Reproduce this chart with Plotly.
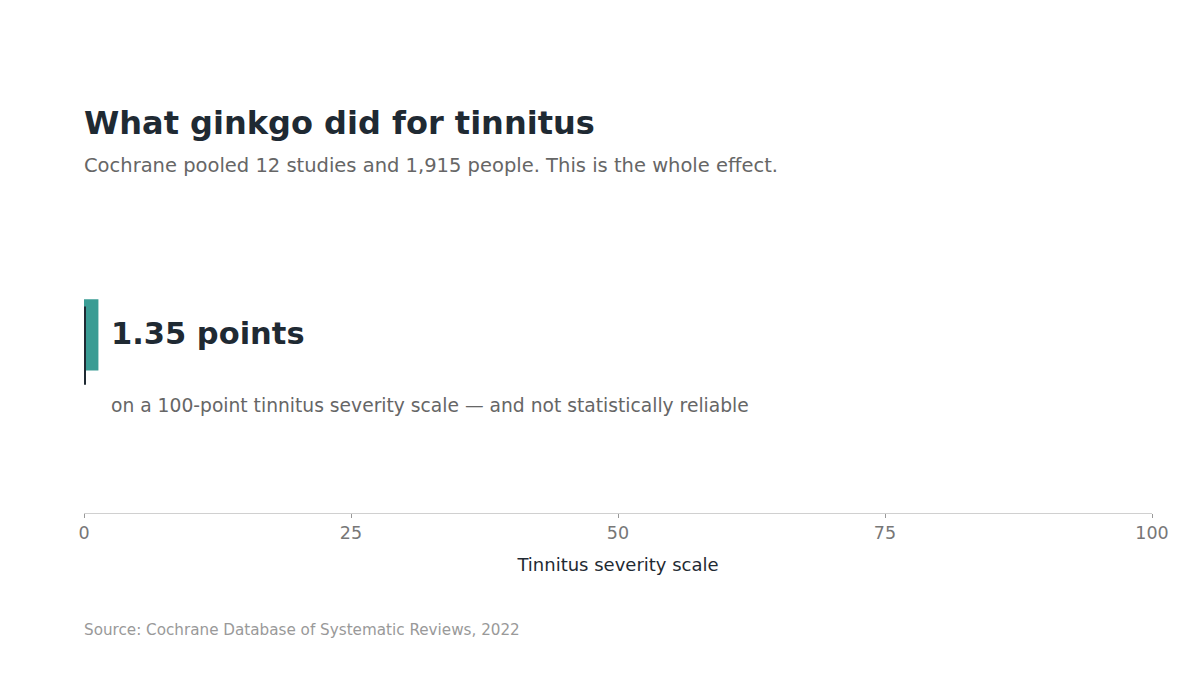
import plotly.graph_objects as go

###############################################################################
# Data
###############################################################################
effect = [1.35]
rows = [0]
tick_vals = [0, 25, 50, 75, 100]
tick_text = ['0', '25', '50', '75', '100']

TITLE = 'What ginkgo did for tinnitus'
SUBTITLE = 'Cochrane pooled 12 studies and 1,915 people. This is the whole effect.'
NOTE = 'on a 100-point tinnitus severity scale — and not statistically reliable'
SOURCE = 'Source: Cochrane Database of Systematic Reviews, 2022'
FONT = 'DejaVu Sans'
INK = '#1f2a33'

###############################################################################
# Figure
###############################################################################
fig = go.Figure()
fig.add_trace(go.Bar(
    x=effect, y=rows, orientation='h',
    width=0.5,
    marker=dict(color='#3a9c94', line=dict(width=0)),
    hoverinfo='skip', showlegend=False
))

# zero reference line (paper-anchored so it isn't clipped at the axis edge)
fig.add_shape(
    type='line', xref='paper', yref='y',
    xsizemode='pixel', xanchor=0, x0=1, x1=1,
    y0=0.2, y1=-0.35,
    line=dict(color=INK, width=2)
)

fig.update_layout(
    width=1200, height=675,
    margin=dict(l=76, r=56, t=220, b=170),
    paper_bgcolor='white', plot_bgcolor='white',
    font=dict(family=FONT, color=INK),
    xaxis=dict(
        range=[0, 100], tickvals=tick_vals, ticktext=tick_text,
        showgrid=False, zeroline=False,
        showline=True, linecolor='#d0d0d0', linewidth=1,
        ticks='outside', ticklen=4, tickcolor='#999999',
        tickfont=dict(size=17.5, color='#777777'),
        title=dict(text='Tinnitus severity scale', standoff=16,
                   font=dict(size=18, color=INK)),
        fixedrange=True,
    ),
    yaxis=dict(range=[-1.25, 0.75], visible=False, fixedrange=True),
)

# callout text
fig.add_annotation(
    x=0, y=0, xref='paper', yref='y',
    xshift=25, yshift=1, xanchor='left', yanchor='middle',
    text='<b>1.35 points</b>', showarrow=False,
    font=dict(family=FONT, size=30.5, color=INK)
)
fig.add_annotation(
    x=0, y=0, xref='paper', yref='y',
    xshift=25, yshift=-71, xanchor='left', yanchor='middle',
    text=NOTE, showarrow=False,
    font=dict(family=FONT, size=18.7, color='#666666')
)

# title, subtitle, source
fig.add_annotation(
    x=0, y=1, xref='paper', yref='paper', xshift=-2, yshift=105,
    xanchor='left', yanchor='middle', showarrow=False,
    text=f'<b>{TITLE}</b>',
    font=dict(family=FONT, size=32, color=INK)
)
fig.add_annotation(
    x=0, y=1, xref='paper', yref='paper', xshift=-2, yshift=63,
    xanchor='left', yanchor='middle', showarrow=False,
    text=SUBTITLE,
    font=dict(family=FONT, size=19.5, color='#666666')
)
fig.add_annotation(
    x=0, y=0, xref='paper', yref='paper', xshift=-2, yshift=-117,
    xanchor='left', yanchor='middle', showarrow=False,
    text=SOURCE,
    font=dict(family=FONT, size=15.2, color='#999999')
)

fig.write_html('out.html')
